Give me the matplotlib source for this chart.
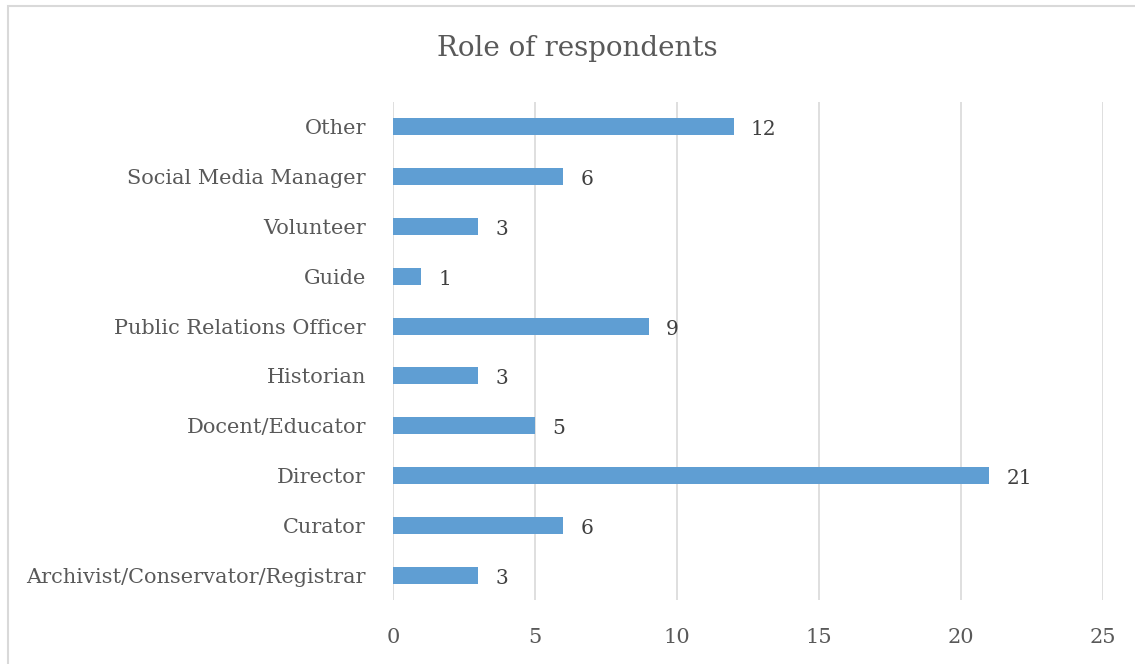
import matplotlib
matplotlib.use("Agg")
import matplotlib.pyplot as plt
from matplotlib.patches import Rectangle

# Survey counts, listed bottom to top as drawn
roles = [
    "Archivist/Conservator/Registrar",
    "Curator",
    "Director",
    "Docent/Educator",
    "Historian",
    "Public Relations Officer",
    "Guide",
    "Volunteer",
    "Social Media Manager",
    "Other",
]
counts = [3, 6, 21, 5, 3, 9, 1, 3, 6, 12]
x_ticks = [0, 5, 10, 15, 20, 25]

BAR = "#5f9ed3"
GRID = "#d9d9d9"
TEXT = "#595959"

plt.rcParams["font.family"] = ["DejaVu Serif"]

fig = plt.figure(figsize=(11.35, 6.64), dpi=100)
ax = fig.add_axes([393 / 1135, 1 - 600 / 664, 710 / 1135, 498 / 664])

# light frame around the chart area
fig.patches.append(Rectangle((8 / 1135, -0.1), 1.2, 1 - 6 / 664 + 0.1,
                             transform=fig.transFigure, fill=False,
                             edgecolor=GRID, linewidth=1.5))

y = list(range(len(roles)))
ax.barh(y, counts, height=0.34, color=BAR, zorder=3)
for yi, c in zip(y, counts):
    ax.text(c + 0.6, yi - 0.06, str(c), va="center", ha="left",
            fontsize=14.5, color="#404040")

ax.set_xlim(0, 25)
ax.set_ylim(-0.5, len(roles) - 0.5)
ax.set_xticks(x_ticks)
ax.set_yticks(y)
ax.set_yticklabels(roles)
ax.tick_params(axis="both", length=0, labelsize=15, colors=TEXT)
ax.tick_params(axis="x", pad=20)
ax.tick_params(axis="y", pad=19.5)
ax.grid(axis="x", color=GRID, linewidth=1.2, zorder=0)
for s in ax.spines.values():
    s.set_visible(False)

fig.text(577 / 1135, 1 - 48 / 664, "Role of respondents", ha="center",
         va="center", fontsize=20, color=TEXT)

fig.savefig("out.png", dpi=100)
